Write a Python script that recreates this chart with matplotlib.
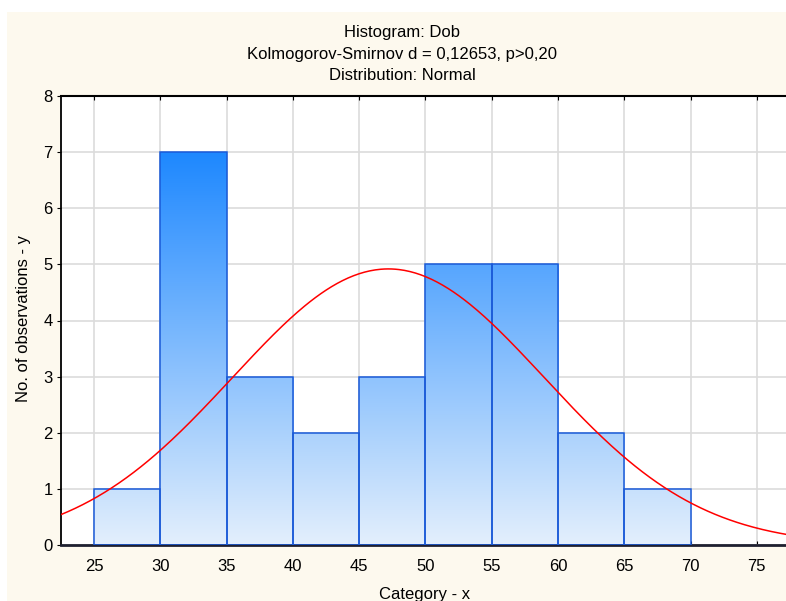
import numpy as np
import matplotlib
matplotlib.use("Agg")
import matplotlib.pyplot as plt
from matplotlib.patches import Rectangle
from matplotlib.colors import LinearSegmentedColormap

plt.rcParams['font.family'] = ['Liberation Sans', 'DejaVu Sans']

# Data
bin_edges = [25, 30, 35, 40, 45, 50, 55, 60, 65, 70]
counts = [1, 7, 3, 2, 3, 5, 5, 2, 1]
x_ticks = [25, 30, 35, 40, 45, 50, 55, 60, 65, 70, 75]
y_ticks = [0, 1, 2, 3, 4, 5, 6, 7, 8]
fit_mean = 47.2
fit_sd = 11.76
n_obs = 29
bin_width = 5

title_lines = ["Histogram: Dob", "Kolmogorov-Smirnov d = 0,12653, p>0,20", "Distribution: Normal"]

W, H = 786, 601
fig = plt.figure(figsize=(W / 100, H / 100), dpi=100)
fig.patch.set_facecolor('white')
# cream panel
fig.patches.append(Rectangle((7 / W, 0), 1 - 7 / W, 1 - 12 / H, transform=fig.transFigure,
                             facecolor='#fdf9ee', edgecolor='none', zorder=-10))

ax_l, ax_r, ax_t, ax_b = 61, 786, 96, 545
ax = fig.add_axes([ax_l / W, 1 - ax_b / H, (ax_r - ax_l) / W, (ax_b - ax_t) / H])
ax.set_facecolor('white')
ax.set_xlim(22.5, 77.2)
ax.set_ylim(0, 8)

ax.set_xticks(x_ticks)
ax.set_yticks(y_ticks)
ax.grid(True, color='#dcdcdc', linewidth=1.2, zorder=0)
ax.set_axisbelow(True)

ax.tick_params(axis='x', direction='in', top=True, length=3, labelsize=12, pad=10, color='black')
ax.tick_params(axis='y', direction='out', length=3, labelsize=12, pad=3, color='black')
ax.spines['right'].set_visible(False)
ax.spines['top'].set_linewidth(1.5)
ax.spines['left'].set_linewidth(1.3)
ax.spines['bottom'].set_linewidth(2.0)
ax.spines['bottom'].set_color('#1e2030')

# gradient fill bars
cmap = LinearSegmentedColormap.from_list('g', ['#e3effc', '#1e88ff'])
grad = np.linspace(0, 1, 256).reshape(-1, 1)
ymax = max(counts)
for i, c in enumerate(counts):
    x0, x1 = bin_edges[i], bin_edges[i + 1]
    im = ax.imshow(grad, extent=[x0, x1, 0, ymax], origin='lower', aspect='auto',
                   cmap=cmap, zorder=2, interpolation='bilinear')
    rect = Rectangle((x0, 0), x1 - x0, c, facecolor='none', edgecolor='#1a5ad8',
                     linewidth=1.1, zorder=3)
    ax.add_patch(rect)
    im.set_clip_path(rect)
ax.set_xlim(22.5, 77.2)
ax.set_ylim(0, 8)

# normal fit
xs = np.linspace(22.5, 77.2, 400)
ys = n_obs * bin_width / (fit_sd * np.sqrt(2 * np.pi)) * np.exp(-0.5 * ((xs - fit_mean) / fit_sd) ** 2)
ax.plot(xs, ys, color='#ff0000', linewidth=1.1, zorder=4, clip_on=True)

# titles
for txt, yp in zip(title_lines, [33, 55, 75]):
    fig.text(402 / W, 1 - yp / H, txt, ha='center', va='center', fontsize=12)

fig.text(425 / W, 1 - 594 / H, "Category - x", ha='center', va='center', fontsize=12)
fig.text(24 / W, 1 - 318 / H, "No. of observations - y", ha='center', va='center',
         rotation=90, fontsize=12)

fig.savefig('out.png', dpi=100, facecolor=fig.get_facecolor())
